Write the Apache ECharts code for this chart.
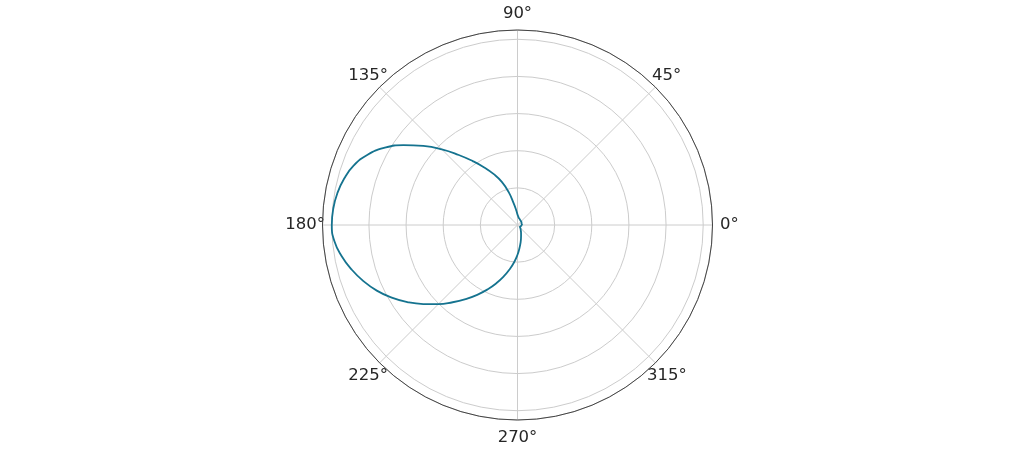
<!DOCTYPE html>
<html>
<head>
<meta charset="utf-8">
<script src="https://cdn.jsdelivr.net/npm/echarts@6/dist/echarts.min.js"></script>
<style>
html,body{margin:0;padding:0;background:#fff;}
#chart{width:1035px;height:450px;}
</style>
</head>
<body>
<div id="chart"></div>
<script>
// Angles (degrees) and radius values
var angles = [0,5,10,15,20,25,30,35,40,45,50,55,60,65,70,75,80,85,90,95,100,105,110,115,120,125,130,135,140,145,150,155,160,165,170,175,180,185,190,195,200,205,210,215,220,225,230,235,240,245,250,255,260,265,270,275,280,285,290,295,300,305,310,315,320,325,330,335,340,345,350,355,360];
var radii = [0.024,0.025,0.024,0.023,0.023,0.024,0.025,0.026,0.027,0.027,0.028,0.029,0.030,0.032,0.034,0.036,0.039,0.046,0.056,0.080,0.118,0.183,0.247,0.302,0.358,0.420,0.492,0.576,0.662,0.750,0.830,0.893,0.938,0.966,0.985,0.996,1.000,0.990,0.962,0.925,0.883,0.836,0.782,0.724,0.662,0.603,0.543,0.487,0.434,0.383,0.334,0.287,0.242,0.200,0.160,0.124,0.096,0.073,0.056,0.045,0.036,0.030,0.025,0.021,0.018,0.016,0.016,0.017,0.018,0.019,0.021,0.023,0.024];
var angleTicks = [0,45,90,135,180,225,270,315];
var radiusMax = 1.05;
var radiusStep = 0.2;

var data = angles.map(function(a, i){ return [radii[i], a]; });

// label styling: centre each tick label at a fixed distance from the circle
var labelPad = {
  0:   [0, 0, 0, 19.5],
  45:  [0, 0, 20, 5],
  90:  [0, 0, 37.5, 0],
  135: [0, 0, 20, 0],
  180: [0, 9.5, 0, 0],
  225: [23, 0, 0, 0],
  270: [39.5, 0, 0, 0],
  315: [23, 0, 0, 0]
};
var rich = {};
angleTicks.forEach(function(t){
  rich['t' + t] = {
    fontFamily: 'DejaVu Sans',
    fontSize: 16.5,
    lineHeight: 19,
    color: '#262626',
    padding: labelPad[t]
  };
});

var chart = echarts.init(document.getElementById('chart'));
chart.setOption({
  animation: false,
  backgroundColor: '#ffffff',
  polar: { center: ['50%', '50%'], radius: 195 },
  angleAxis: {
    type: 'value',
    min: 0, max: 360, interval: 45,
    startAngle: 0, clockwise: false,
    z: 3,
    axisLine: { show: true, lineStyle: { color: '#444444', width: 1 } },
    axisTick: { show: false },
    axisLabel: {
      show: true,
      margin: -12,
      fontFamily: 'DejaVu Sans',
      fontSize: 16.5,
      color: '#262626',
      rich: rich,
      formatter: function(v){
        return angleTicks.indexOf(v) >= 0 ? '{t' + v + '|' + v + '°}' : '';
      }
    },
    splitLine: { show: true, lineStyle: { color: '#cccccc', width: 1 } }
  },
  radiusAxis: {
    type: 'value',
    min: 0, max: radiusMax, interval: radiusStep,
    z: 1,
    axisLine: { show: false },
    axisTick: { show: false },
    axisLabel: { show: false },
    splitLine: { show: true, lineStyle: { color: '#cccccc', width: 1 } }
  },
  series: [{
    type: 'line',
    coordinateSystem: 'polar',
    data: data,
    z: 5,
    smooth: true,
    showSymbol: false,
    symbol: 'none',
    lineStyle: { color: '#15738f', width: 1.8 }
  }]
});
</script>
</body>
</html>
